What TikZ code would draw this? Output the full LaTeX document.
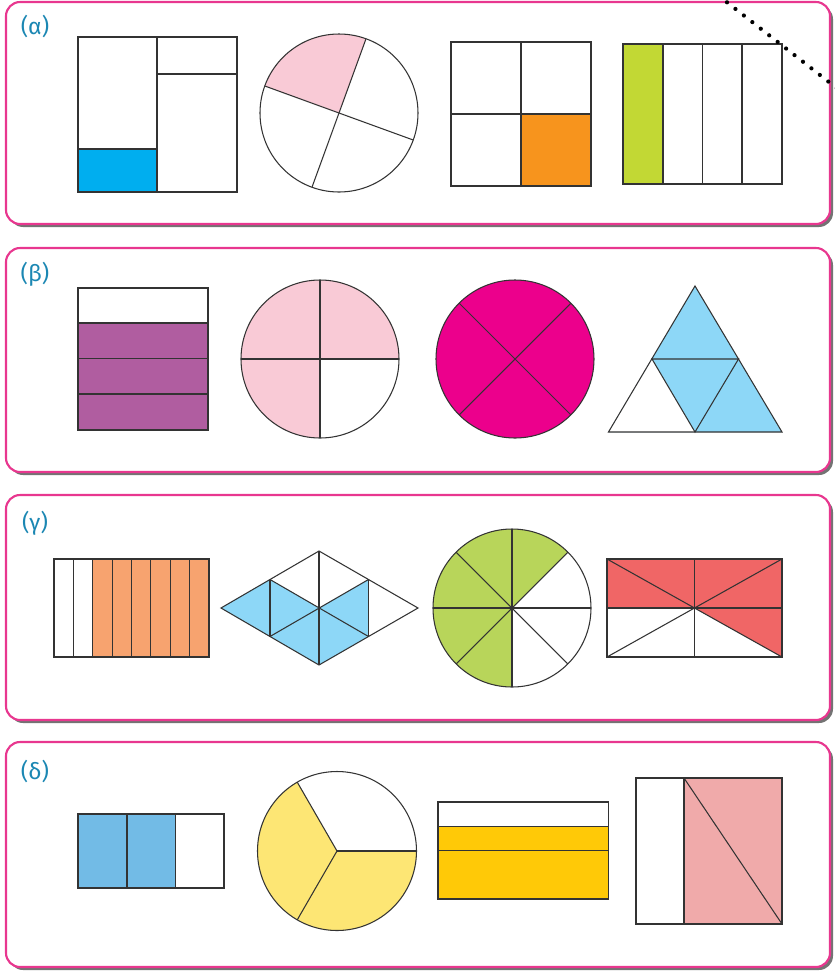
\documentclass[tikz,border=0pt]{standalone}
\usepackage{fontspec}
\setmainfont{Fira Sans}
\usetikzlibrary{calc}
\definecolor{mPink}{HTML}{E8378F}
\definecolor{mTeal}{HTML}{1B87B3}
\definecolor{mCyan}{HTML}{00AEEF}
\definecolor{mRose}{HTML}{F9CAD6}
\definecolor{mOrange}{HTML}{F7941D}
\definecolor{mLime}{HTML}{C2D834}
\definecolor{mPurple}{HTML}{B05DA0}
\definecolor{mMagenta}{HTML}{EC008C}
\definecolor{mSky}{HTML}{8DD7F7}
\definecolor{mSalmon}{HTML}{F7A36F}
\definecolor{mGrass}{HTML}{B8D55A}
\definecolor{mRed}{HTML}{F06666}
\definecolor{mBlue}{HTML}{72BBE6}
\definecolor{mLemon}{HTML}{FDE674}
\definecolor{mGold}{HTML}{FFC907}
\definecolor{mBlush}{HTML}{F0AAAA}

\begin{document}
\begin{tikzpicture}[x=0.02cm, y=0.02cm,
    panel/.style={draw=mPink, line width=1.2pt, fill=white, rounded corners=8pt},
    shade/.style={fill=black!55, rounded corners=8pt},
    part/.style={draw=black!80, line width=0.6pt},
    tag/.style={text=mTeal, font=\fontsize{13}{15}\selectfont}]
  \useasboundingbox (0,0) rectangle (835,-978);

  % the four frames
  \foreach \t/\b in {2/224, 248/472, 495/720, 742/967} {
    \fill[shade] (9,-\t-3) rectangle (833,-\b-3);
    \draw[panel] (6,-\t) rectangle (830,-\b);
  }
  \node[tag] (la) at (35,-27) {(α)};
  \node[tag] (lb) at (35,-274) {(β)};
  \node[tag] (lc) at (35,-523) {(γ)};
  \node[tag] (ld) at (35,-771) {(δ)};

  % (a)
  \fill[mCyan] (78,-149) rectangle (157,-192);
  \draw[part] (78,-37) rectangle (237,-192);
  \draw[part] (157,-37) -- (157,-192);
  \draw[part] (157,-74) -- (237,-74);
  \draw[part] (78,-149) -- (157,-149);

  \coordinate (a2) at (339,-113);
  \fill[mRose] (a2) -- ++(70:79) arc[start angle=70, end angle=160, radius=79] -- cycle;
  \draw[part] (a2) circle[radius=79];
  \draw[part] (a2) ++(70:79) -- ++(250:158);
  \draw[part] (a2) ++(160:79) -- ++(340:158);

  \fill[mOrange] (521,-114) rectangle (591,-186);
  \draw[part] (451,-42) rectangle (591,-186);
  \draw[part] (521,-42) -- (521,-186);
  \draw[part] (451,-114) -- (591,-114);

  \fill[mLime] (623,-44) rectangle (663,-184);
  \draw[part] (623,-44) rectangle (782,-184);
  \foreach \x in {663,702.5,742} \draw[part] (\x,-44) -- (\x,-184);

  % (b)
  \fill[mPurple] (78,-323) rectangle (208,-430);
  \draw[part] (78,-288) rectangle (208,-430);
  \foreach \y in {323,358.5,394} \draw[part] (78,-\y) -- (208,-\y);

  \coordinate (b2) at (320,-359);
  \fill[mRose] (b2) -- ++(0:79) arc[start angle=0, end angle=270, radius=79] -- cycle;
  \draw[part] (b2) circle[radius=79];
  \draw[part] (b2) ++(90:79) -- ++(270:158);
  \draw[part] (b2) ++(180:79) -- ++(0:158);

  \coordinate (b3) at (515,-359);
  \fill[mMagenta] (b3) circle[radius=79];
  \draw[part] (b3) circle[radius=79];
  \draw[part] (b3) ++(45:79) -- ++(225:158);
  \draw[part] (b3) ++(135:79) -- ++(315:158);

  \fill[mSky] (695,-286) -- (782,-432) -- (608.5,-432) -- cycle;
  \fill[white] (608.5,-432) -- (652,-359) -- (695,-432) -- cycle;
  \draw[part] (695,-286) -- (782,-432) -- (608.5,-432) -- cycle;
  \draw[part] (652,-359) -- (738.5,-359) -- (695,-432) -- cycle;

  % (c)
  \fill[mSalmon] (92.75,-559) rectangle (209,-657);
  \draw[part] (54,-559) rectangle (209,-657);
  \foreach \i in {1,...,7} \draw[part] (54+19.375*\i,-559) -- (54+19.375*\i,-657);

  \fill[mSky] (221,-608) -- (270,-579.5) -- (319,-608) -- (368.5,-579.5)
    -- (368.5,-636.5) -- (319,-665) -- (270,-636.5) -- cycle;
  \draw[part] (221,-608) -- (319,-551) -- (418,-608) -- (319,-665) -- cycle;
  \draw[part] (319,-551) -- (319,-665);
  \draw[part] (270,-579.5) -- (270,-636.5);
  \draw[part] (368.5,-579.5) -- (368.5,-636.5);
  \draw[part] (270,-579.5) -- (368.5,-636.5);
  \draw[part] (368.5,-579.5) -- (270,-636.5);

  \coordinate (c3) at (512,-608);
  \fill[mGrass] (c3) -- ++(45:79) arc[start angle=45, end angle=270, radius=79] -- cycle;
  \draw[part] (c3) circle[radius=79];
  \foreach \a in {0,45,90,135} \draw[part] (c3) ++(\a:79) -- ++(\a+180:158);

  \fill[mRed] (607,-559) -- (782,-559) -- (782,-657) -- (694.5,-608) -- (607,-608) -- cycle;
  \draw[part] (607,-559) rectangle (782,-657);
  \draw[part] (694.5,-559) -- (694.5,-657);
  \draw[part] (607,-608) -- (782,-608);
  \draw[part] (607,-559) -- (782,-657);
  \draw[part] (607,-657) -- (782,-559);

  % (d)
  \fill[mBlue] (78,-814) rectangle (175.5,-888);
  \draw[part] (78,-814) rectangle (224,-888);
  \foreach \x in {127,175.5} \draw[part] (\x,-814) -- (\x,-888);

  \coordinate (d2) at (337,-851);
  \fill[mLemon] (d2) -- ++(120:79.5) arc[start angle=120, end angle=360, radius=79.5] -- cycle;
  \draw[part] (d2) circle[radius=79.5];
  \foreach \a in {0,120,240} \draw[part] (d2) -- ++(\a:79.5);

  \fill[mGold] (438,-826.5) rectangle (608.5,-899);
  \draw[part] (438,-802) rectangle (608.5,-899);
  \foreach \y in {826.5,850.7} \draw[part] (438,-\y) -- (608.5,-\y);

  \fill[mBlush] (684,-778) rectangle (782,-924);
  \draw[part] (636,-778) rectangle (782,-924);
  \draw[part] (684,-778) -- (684,-924);
  \draw[part] (684,-778) -- (782,-924);

  % dotted cut line
  \draw[line width=2.4pt, dash pattern=on 0pt off 6.1pt, line cap=round] (727,-2.3) -- (880,-122);
\end{tikzpicture}
\end{document}
